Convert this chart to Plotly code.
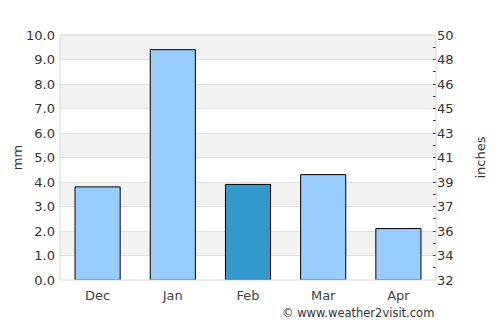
import plotly.graph_objects as go

months = ["Dec", "Jan", "Feb", "Mar", "Apr"]
rain_mm = [3.8, 9.4, 3.9, 4.3, 2.1]
bar_colors = ["#99ccff", "#99ccff", "#3399cc", "#99ccff", "#99ccff"]
left_ticks = [0, 1, 2, 3, 4, 5, 6, 7, 8, 9, 10]
left_labels = ["0.0", "1.0", "2.0", "3.0", "4.0", "5.0", "6.0", "7.0", "8.0", "9.0", "10.0"]
right_labels = ["32", "34", "36", "37", "39", "41", "43", "45", "46", "48", "50"]
minor_vals = [0.5, 1, 1.5, 2, 2.5, 3, 3.5, 4, 4.5, 5, 5.5, 6, 6.5, 7, 7.5, 8, 8.5, 9, 9.5]
band_starts = [1, 3, 5, 7, 9]

font_family = "DejaVu Sans"
text_color = "#333333"

fig = go.Figure()
fig.add_trace(go.Bar(
    x=months, y=rain_mm,
    marker=dict(color=bar_colors, line=dict(color="#000000", width=1)),
    width=0.6, hoverinfo="skip",
))
# invisible trace to activate the right axis
fig.add_trace(go.Scatter(x=months, y=rain_mm, yaxis="y2", mode="markers",
                         marker=dict(opacity=0), hoverinfo="skip", showlegend=False))

shapes = []
for b in band_starts:
    shapes.append(dict(type="rect", xref="paper", yref="y", x0=0, x1=1, y0=b, y1=b + 1,
                       fillcolor="#f2f2f2", line=dict(width=0), layer="below"))
shapes.append(dict(type="rect", xref="paper", yref="paper", x0=0, x1=1, y0=0, y1=1,
                   line=dict(color="#d8d8d8", width=1), layer="above"))

fig.update_layout(
    width=500, height=325,
    margin=dict(l=60, r=64, t=35, b=45),
    paper_bgcolor="white", plot_bgcolor="white",
    showlegend=False,
    bargap=0.4,
    font=dict(family=font_family, size=13, color=text_color),
    shapes=shapes,
    xaxis=dict(showgrid=False, ticks="", tickfont=dict(size=13, color="#444444"),
               showline=False, zeroline=False, automargin=False, ticklabelstandoff=6),
    yaxis=dict(range=[0, 10], tickmode="array", tickvals=left_ticks, ticktext=left_labels,
               showgrid=True, gridcolor="#e0e0e0", gridwidth=1, zeroline=False,
               ticks="", ticklabelstandoff=4, automargin=False,
               title=dict(text="mm", font=dict(size=13, color=text_color), standoff=0)),
    yaxis2=dict(range=[0, 10], overlaying="y", side="right", tickmode="array",
                tickvals=left_ticks, ticktext=right_labels, showgrid=False, zeroline=False,
                ticks="", automargin=False,
                minor=dict(tickmode="array", tickvals=minor_vals, ticks="inside",
                           ticklen=3, tickcolor="#333333", tickwidth=1, showgrid=False),
                title=dict(text="inches", font=dict(size=13, color=text_color), standoff=23)),
    annotations=[dict(text="© www.weather2visit.com", xref="paper", yref="paper",
                      x=1, y=0, yshift=-42, xanchor="right", yanchor="bottom",
                      showarrow=False, font=dict(size=11.5, color="#333333"))],
)

fig.write_html("out.html")
